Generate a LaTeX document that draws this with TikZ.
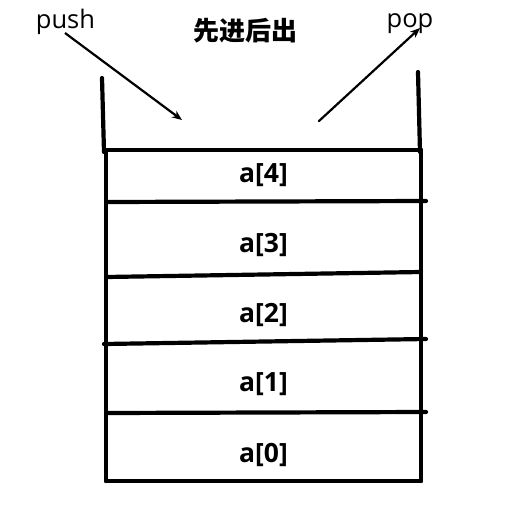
\documentclass[tikz,border=0pt]{standalone}
\usepackage{fontspec}
\setmainfont{Open Sans}
\newfontfamily\cjk{Noto Sans CJK SC}
\usetikzlibrary{arrows.meta}
\tikzset{
  wall/.style={line width=4.2pt, line cap=round},
  lbl/.style={font=\fontsize{26.5}{30}\selectfont\bfseries, anchor=base, inner sep=0pt},
  word/.style={font=\fontsize{25.5}{29}\selectfont, anchor=base, inner sep=0pt},
  arr/.style={line width=2.2pt, -{Stealth[length=10pt,width=8pt]}}
}
\begin{document}
\begin{tikzpicture}[x=1pt,y=-1pt]
\useasboundingbox[fill=white] (0,0) rectangle (504,528);
% walls
\coordinate (lu1) at (102,78);  \coordinate (lu2) at (104,152);
\coordinate (ru1) at (418,72);  \coordinate (ru2) at (420,152);
\coordinate (ll1) at (106,150); \coordinate (ll2) at (106,481);
\coordinate (rl1) at (421,150); \coordinate (rl2) at (421,481);
\draw[wall] (lu1) -- (lu2);
\draw[wall] (ru1) -- (ru2);
\draw[wall] (ll1) -- (ll2);
\draw[wall] (rl1) -- (rl2);
% horizontal lines
\coordinate (h0l) at (104,150); \coordinate (h0r) at (421,150);
\coordinate (h1l) at (106,202); \coordinate (h1r) at (426,201);
\coordinate (h2l) at (106,277); \coordinate (h2r) at (421,272);
\coordinate (h3l) at (104,344); \coordinate (h3r) at (426,339);
\coordinate (h4l) at (106,413); \coordinate (h4r) at (426,412);
\coordinate (h5l) at (106,481); \coordinate (h5r) at (421,481);
\draw[wall] (h0l) -- (h0r);
\draw[wall] (h1l) -- (h1r);
\draw[wall] (h2l) -- (h2r);
\draw[wall] (h3l) -- (h3r);
\draw[wall] (h4l) -- (h4r);
\draw[wall] (h5l) -- (h5r);
% labels
\node[lbl] (a4) at (263.5,182) {a[4]};
\node[lbl] (a3) at (263.5,252) {a[3]};
\node[lbl] (a2) at (263.5,322) {a[2]};
\node[lbl] (a1) at (263.5,391) {a[1]};
\node[lbl] (a0) at (263.5,462) {a[0]};
% title and words
\node[font=\cjk\fontsize{26}{30}\selectfont\bfseries, inner sep=0pt] (title) at (245,31) {先进后出};
\node[word] (push) at (65.5,28) {push};
\node[word] (pop) at (410,27) {pop};
% arrows
\coordinate (ps) at (65,33);  \coordinate (pe) at (182,120);
\coordinate (qs) at (319,121); \coordinate (qe) at (420,28);
\draw[arr] (ps) -- (pe);
\draw[arr, line cap=round] (qs) -- (qe);
\end{tikzpicture}
\end{document}
